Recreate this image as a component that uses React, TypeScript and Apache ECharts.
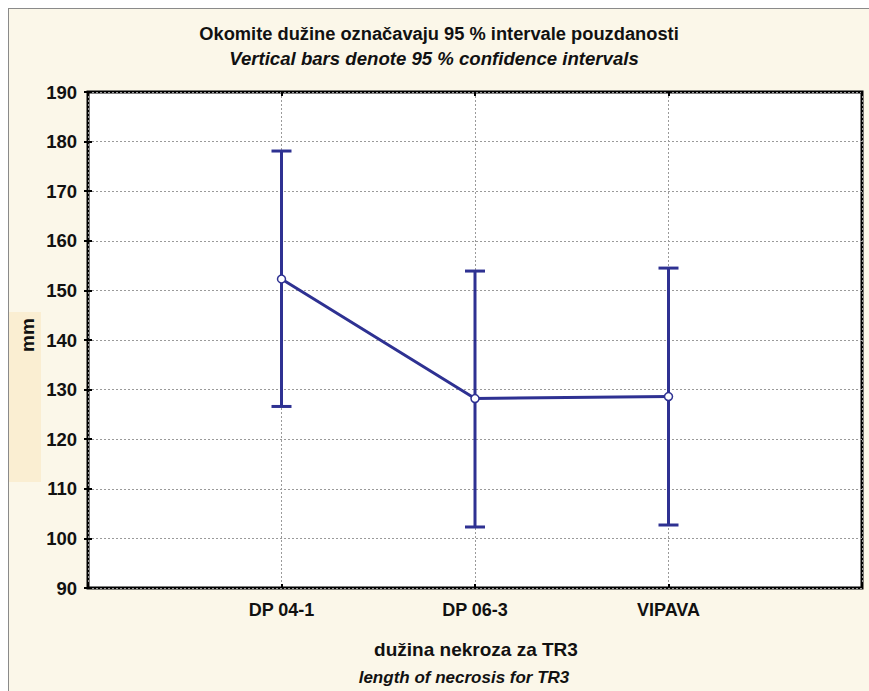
import React, { useEffect, useRef } from "react";
import * as echarts from "echarts";

// Lines (cultivars) on the horizontal axis
const categories = ["DP 04-1", "DP 06-3", "VIPAVA"];
// Mean necrosis length (mm)
const means = [152.3, 128.2, 128.6];
// 95 % confidence interval bounds (mm)
const lower = [126.6, 102.3, 102.7];
const upper = [178.1, 153.9, 154.5];
// Y-axis ticks
const yMin = 90;
const yMax = 190;
const yStep = 10;

const titleLine1 = "Okomite dužine označavaju 95 % intervale pouzdanosti";
const titleLine2 = "Vertical bars denote 95 % confidence intervals";
const xNameLine1 = "dužina nekroza za TR3";
const xNameLine2 = "length of necrosis for TR3";
const yName = "mm";

const FONT = "'Liberation Sans', Arial, sans-serif";
const BLUE = "#2E3192";
const BG = "#FBF7E9";

export default function App() {
  const ref = useRef<HTMLDivElement>(null);

  useEffect(() => {
    if (!ref.current) return;
    const chart = echarts.init(ref.current, undefined, { renderer: "svg" });

    const meanPoints = means.map((m, i) => [i + 1, m]);
    const intervals = categories.map((_, i) => [i + 1, lower[i], upper[i]]);

    const gridLine = { show: true, lineStyle: { color: "#9a9a9a", type: [2, 2], width: 1 } };
    const innerTick = { show: true, inside: true, length: 4, lineStyle: { color: "#000", width: 2 } };

    chart.setOption({
      animation: false,
      backgroundColor: BG,
      grid: {
        left: 80,
        top: 84,
        right: 7,
        bottom: 103,
        show: true,
        backgroundColor: "#ffffff",
        borderColor: "#000000",
        borderWidth: 3,
      },
      xAxis: [
        {
          type: "value",
          min: 0,
          max: categories.length + 1,
          interval: 1,
          position: "bottom",
          axisLine: { show: false },
          axisTick: innerTick,
          splitLine: gridLine,
          axisLabel: {
            margin: 13,
            fontFamily: FONT,
            fontWeight: "bold",
            fontSize: 18,
            color: "#111",
            formatter: (v: number) => categories[v - 1] ?? "",
          },
        },
        {
          type: "value",
          min: 0,
          max: categories.length + 1,
          interval: 1,
          position: "top",
          axisLine: { show: false },
          axisTick: innerTick,
          splitLine: { show: false },
          axisLabel: { show: false },
        },
      ],
      yAxis: [
        {
          type: "value",
          min: yMin,
          max: yMax,
          interval: yStep,
          position: "left",
          axisLine: { show: false },
          axisTick: innerTick,
          splitLine: gridLine,
          axisLabel: {
            margin: 11,
            fontFamily: FONT,
            fontWeight: "bold",
            fontSize: 18.5,
            color: "#111",
          },
        },
        {
          type: "value",
          min: yMin,
          max: yMax,
          interval: yStep,
          position: "right",
          axisLine: { show: false },
          axisTick: innerTick,
          splitLine: { show: false },
          axisLabel: { show: false },
        },
      ],
      series: [
        {
          type: "custom",
          xAxisIndex: 0,
          yAxisIndex: 0,
          z: 3,
          data: intervals,
          renderItem: (params: any, api: any) => {
            const x = api.value(0);
            const lo = api.coord([x, api.value(1)]);
            const hi = api.coord([x, api.value(2)]);
            const half = 10;
            const style = { stroke: BLUE, lineWidth: 3, fill: "none" };
            return {
              type: "group",
              children: [
                { type: "line", shape: { x1: lo[0], y1: lo[1], x2: hi[0], y2: hi[1] }, style },
                { type: "line", shape: { x1: hi[0] - half, y1: hi[1], x2: hi[0] + half, y2: hi[1] }, style },
                { type: "line", shape: { x1: lo[0] - half, y1: lo[1], x2: lo[0] + half, y2: lo[1] }, style },
              ],
            };
          },
        },
        {
          type: "line",
          xAxisIndex: 0,
          yAxisIndex: 0,
          z: 4,
          data: meanPoints,
          symbol: "circle",
          symbolSize: 8,
          lineStyle: { color: BLUE, width: 3 },
          itemStyle: { color: "#ffffff", borderColor: BLUE, borderWidth: 1.5 },
        },
      ],
      graphic: [
        { type: "rect", shape: { x: 0, y: 304, width: 33, height: 170 }, style: { fill: "#FAEED2" }, z: 0 },
        { type: "line", shape: { x1: 0.5, y1: 0, x2: 0.5, y2: 683 }, style: { stroke: "#8a8a8a", lineWidth: 1 } },
        { type: "line", shape: { x1: 0, y1: 0.5, x2: 861, y2: 0.5 }, style: { stroke: "#8a8a8a", lineWidth: 1 } },
        {
          type: "text",
          x: 431,
          y: 25,
          style: { text: titleLine1, font: `bold 18.3px ${FONT}`, fill: "#111", textAlign: "center", textVerticalAlign: "middle" },
        },
        {
          type: "text",
          x: 426,
          y: 50,
          style: { text: titleLine2, font: `italic bold 18.6px ${FONT}`, fill: "#111", textAlign: "center", textVerticalAlign: "middle" },
        },
        {
          type: "text",
          x: 468,
          y: 641,
          style: { text: xNameLine1, font: `bold 19px ${FONT}`, fill: "#111", textAlign: "center", textVerticalAlign: "middle" },
        },
        {
          type: "text",
          x: 456,
          y: 669,
          style: { text: xNameLine2, font: `italic bold 17px ${FONT}`, fill: "#111", textAlign: "center", textVerticalAlign: "middle" },
        },
        {
          type: "text",
          x: 19,
          y: 327,
          rotation: Math.PI / 2,
          style: { text: yName, font: `bold 19px ${FONT}`, fill: "#111", textAlign: "center", textVerticalAlign: "middle" },
        },
      ],
    });

    return () => chart.dispose();
  }, []);

  return <div ref={ref} style={{ position: "fixed", left: 8, top: 8, width: 861, height: 683 }} />;
}
